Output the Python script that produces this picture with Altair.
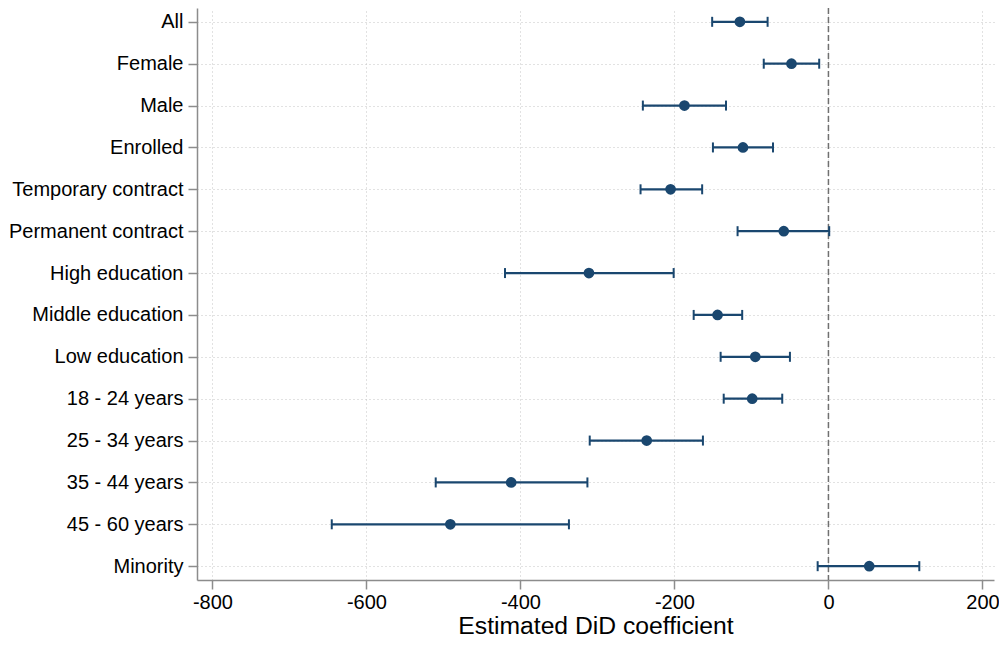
import altair as alt
import pandas as pd

categories = ["All", "Female", "Male", "Enrolled", "Temporary contract",
              "Permanent contract", "High education", "Middle education",
              "Low education", "18 - 24 years", "25 - 34 years",
              "35 - 44 years", "45 - 60 years", "Minority"]
estimates = [-115, -48, -187, -111, -205, -58, -311, -144, -95, -99, -236, -412, -491, 53]
ci_low = [-151, -84, -241, -150, -244, -118, -420, -175, -140, -136, -310, -510, -645, -14]
ci_high = [-79, -12, -133, -72, -164, 1, -201, -112, -50, -60, -163, -313, -337, 118]
x_ticks = [-800, -600, -400, -200, 0, 200]

df = pd.DataFrame({"group": categories, "est": estimates, "lo": ci_low, "hi": ci_high})
zero_df = pd.DataFrame({"x": [0]})

navy = "#1a476f"
font = "Liberation Sans"
x_title = "Estimated DiD coefficient"

x_scale = alt.Scale(domain=[-820, 215], nice=False, zero=False)
x_axis = alt.Axis(values=x_ticks, labelFlush=False, grid=True, tickSize=9,
                  labelPadding=3, titlePadding=1, titleFontSize=24.7,
                  labelExpr="'' + datum.value")
y_enc = alt.Y("group:N", sort=categories, title=None,
              scale=alt.Scale(type="point", padding=0.33),
              axis=alt.Axis(grid=True, tickSize=9, labelPadding=5))

base = alt.Chart(df).encode(y=y_enc)

ci_line = base.mark_rule(color=navy, strokeWidth=2.2).encode(
    x=alt.X("lo:Q", scale=x_scale, axis=x_axis, title=x_title),
    x2="hi:Q",
)
cap_lo = base.mark_tick(color=navy, thickness=2, size=10, opacity=1).encode(
    x=alt.X("lo:Q", scale=x_scale, axis=x_axis, title=x_title),
)
cap_hi = base.mark_tick(color=navy, thickness=2, size=10, opacity=1).encode(
    x=alt.X("hi:Q", scale=x_scale, axis=x_axis, title=x_title),
)
pts = base.mark_circle(color=navy, size=115, opacity=1).encode(
    x=alt.X("est:Q", scale=x_scale, axis=x_axis, title=x_title),
)
zero_line = alt.Chart(zero_df).mark_rule(color="#707070", strokeWidth=1.5,
                                          strokeDash=[6, 3]).encode(
    x=alt.X("x:Q", scale=x_scale, axis=x_axis, title=x_title),
)

chart = alt.layer(zero_line, ci_line, cap_lo, cap_hi, pts).properties(
    width=797,
    height=572,
    autosize=alt.AutoSizeParams(type="none"),
    padding={"left": 189, "top": 0, "right": 5, "bottom": 59},
    background="white",
).configure_view(stroke=None).configure_axis(
    labelFont=font, titleFont=font, labelFontSize=20, labelColor="black",
    titleColor="black", titleFontWeight="normal",
    domainColor="#8c8c8c", tickColor="#8c8c8c", domainWidth=1.5, tickWidth=1.5,
    gridColor="#c4c4c4", gridDash=[1, 3], gridWidth=1,
)

chart.save("out.html", embed_options={"renderer": "svg", "actions": False})
